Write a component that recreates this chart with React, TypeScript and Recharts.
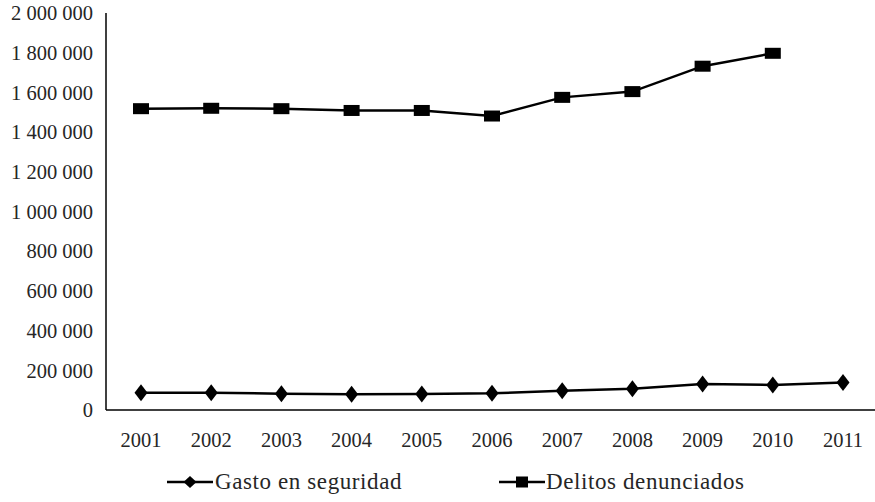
import React from 'react';
import { LineChart, Line, XAxis, YAxis, Legend } from 'recharts';

const years = ['2001', '2002', '2003', '2004', '2005', '2006', '2007', '2008', '2009', '2010', '2011'];
const gasto = [87000, 87000, 82000, 79000, 81000, 84000, 97000, 107000, 131000, 126000, 138000];
const delitos: (number | null)[] = [1518000, 1520000, 1518000, 1509000, 1509000, 1481000, 1575000, 1604000, 1732000, 1797000, null];
const yTicks = [0, 200000, 400000, 600000, 800000, 1000000, 1200000, 1400000, 1600000, 1800000, 2000000];
const seriesNames = ['Gasto en seguridad', 'Delitos denunciados'];

const data = years.map((y, i) => ({ year: y, gasto: gasto[i], delitos: delitos[i] }));

const FONT = 'Liberation Serif, Times New Roman, Tinos, DejaVu Serif, Noto Serif, serif';
const TEXT = '#262626';

const fmt = (v: number) => String(v).replace(/\B(?=(\d{3})+(?!\d))/g, ' ');

const Diamond = (props: any) => {
  const { cx, cy } = props;
  if (cx == null || cy == null || isNaN(cy)) return <g />;
  const w = 6.5, h = 8.5;
  return <polygon points={`${cx},${cy - h} ${cx + w},${cy} ${cx},${cy + h} ${cx - w},${cy}`} fill="#000" />;
};

const Square = (props: any) => {
  const { cx, cy } = props;
  if (cx == null || cy == null || isNaN(cy)) return <g />;
  return <rect x={cx - 8} y={cy - 5.5} width={16} height={11} fill="#000" />;
};

const LegendContent = () => (
  <div style={{ position: 'relative', height: 40, width: 875, fontFamily: FONT, fontSize: 23, letterSpacing: 0.6, color: TEXT }}>
    <div style={{ position: 'absolute', left: 167, top: 6, display: 'flex', alignItems: 'center', height: 28 }}>
      <svg width={46} height={20} style={{ display: 'block' }}>
        <line x1={0} y1={10} x2={46} y2={10} stroke="#000" strokeWidth={2.5} />
        <polygon points="23,4 29.5,10 23,16 16.5,10" fill="#000" />
      </svg>
      <span style={{ marginLeft: 2, whiteSpace: 'nowrap' }}>{seriesNames[0]}</span>
    </div>
    <div style={{ position: 'absolute', left: 499, top: 6, display: 'flex', alignItems: 'center', height: 28 }}>
      <svg width={46} height={20} style={{ display: 'block' }}>
        <line x1={0} y1={10} x2={46} y2={10} stroke="#000" strokeWidth={2.5} />
        <rect x={17} y={4.5} width={12} height={11} fill="#000" />
      </svg>
      <span style={{ marginLeft: 1, whiteSpace: 'nowrap' }}>{seriesNames[1]}</span>
    </div>
  </div>
);

export default function App() {
  return (
    <div style={{ position: 'absolute', left: 0, top: 0, width: 875, height: 502, background: '#fff', fontFamily: FONT }}>
      <LineChart width={875} height={502} data={data} margin={{ top: 13, right: 0, left: 0, bottom: 0 }} style={{ fontFamily: FONT }}>
        <XAxis
          dataKey="year"
          height={52}
          padding={{ left: 35, right: 32 }}
          tickLine={false}
          tickSize={0}
          tickMargin={22}
          axisLine={{ stroke: '#000', strokeWidth: 1.5 }}
          tick={{ fill: TEXT, fontFamily: FONT, fontSize: 20.5 }}
          interval={0}
        />
        <YAxis
          width={106}
          domain={[0, 2000000]}
          ticks={yTicks}
          tickFormatter={fmt}
          tickLine={false}
          tickSize={0}
          tickMargin={13}
          axisLine={{ stroke: '#000', strokeWidth: 1.5 }}
          tick={{ fill: TEXT, fontFamily: FONT, fontSize: 20.5 }}
          interval={0}
        />
        <Legend verticalAlign="bottom" height={40} content={<LegendContent />} />
        <Line
          dataKey="gasto"
          name={seriesNames[0]}
          stroke="#000"
          strokeWidth={2.5}
          dot={<Diamond />}
          activeDot={false}
          isAnimationActive={false}
        />
        <Line
          dataKey="delitos"
          name={seriesNames[1]}
          stroke="#000"
          strokeWidth={2.5}
          dot={<Square />}
          activeDot={false}
          connectNulls={false}
          isAnimationActive={false}
        />
      </LineChart>
    </div>
  );
}
